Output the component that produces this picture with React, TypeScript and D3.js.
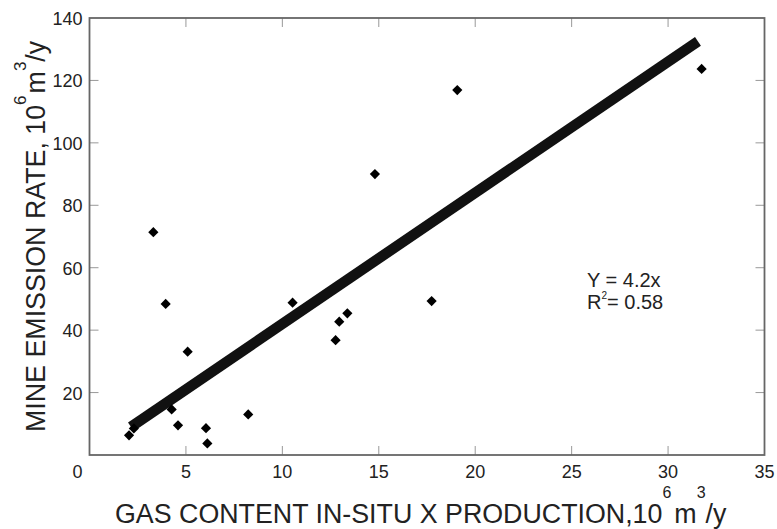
import React, { useEffect } from 'react';
import * as d3 from 'd3';

// scatter: gas content in-situ x production vs mine emission rate
const gasProduction = [2.05, 2.3, 3.31, 3.95, 4.26, 4.59, 5.09, 6.04, 6.11, 8.23, 10.53, 12.76, 12.95, 13.37, 14.8, 17.74, 19.07, 31.74];
const emissionRate = [6.3, 8.5, 71.4, 48.4, 14.6, 9.5, 33.1, 8.6, 3.7, 13.0, 48.8, 36.8, 42.7, 45.4, 90.0, 49.3, 116.9, 123.7];

const xTicks = [0, 5, 10, 15, 20, 25, 30, 35];
const yTicks = [20, 40, 60, 80, 100, 120, 140];

const slope = 4.2;
const fitRange = [2.15, 31.55];

const W = 777;
const H = 529;
const margin = { top: 18, right: 12.5, bottom: 74, left: 89.5 };

const App: React.FC = () => {
  useEffect(() => {
    document.body.style.margin = '0';
  }, []);

  const x = d3.scaleLinear().domain([0, 35]).range([margin.left, W - margin.right]);
  const y = d3.scaleLinear().domain([0, 140]).range([H - margin.bottom, margin.top]);

  const fitLine = d3.line<number>()
    .x(d => x(d))
    .y(d => y(slope * d));

  const diamond = d3.symbol().type(d3.symbolSquare).size(52)();

  const innerTicksX = xTicks.filter(t => t > 0 && t < 35);
  const innerTicksY = yTicks.filter(t => t < 140);
  const tickLen = 9;
  const font = 'Liberation Sans, Arial, sans-serif';
  const textColor = '#222';

  return (
    <svg width={W} height={H} style={{ display: 'block', background: '#fff' }} fontFamily={font}>
      {/* ticks */}
      <g stroke="#999" strokeWidth={1}>
        {innerTicksX.map(t => (
          <g key={'tx' + t}>
            <line x1={x(t)} x2={x(t)} y1={y(0)} y2={y(0) - tickLen} />
            <line x1={x(t)} x2={x(t)} y1={y(140)} y2={y(140) + tickLen} />
          </g>
        ))}
        {innerTicksY.map(t => (
          <g key={'ty' + t}>
            <line x1={x(0)} x2={x(0) + tickLen} y1={y(t)} y2={y(t)} />
            <line x1={x(35)} x2={x(35) - tickLen} y1={y(t)} y2={y(t)} />
          </g>
        ))}
      </g>

      {/* frame */}
      <rect x={x(0)} y={y(140)} width={x(35) - x(0)} height={y(0) - y(140)}
        fill="none" stroke="#666" strokeWidth={1.8} />

      {/* tick labels */}
      <g fontSize={18} fill={textColor}>
        {xTicks.map(t => (
          <text key={'lx' + t} x={t === 0 ? x(t) - 12 : x(t)} y={y(0) + 23} textAnchor="middle">{t}</text>
        ))}
        {yTicks.map(t => (
          <text key={'ly' + t} x={x(0) - 7} y={y(t) + 7} textAnchor="end">{t}</text>
        ))}
      </g>

      {/* regression line */}
      <path d={fitLine(fitRange) || ''} fill="none" stroke="#111" strokeWidth={10.5} />

      {/* points */}
      <g fill="#000">
        {gasProduction.map((g, i) => (
          <path key={'p' + i} d={diamond || ''}
            transform={`translate(${x(g)},${y(emissionRate[i])}) rotate(45)`} />
        ))}
      </g>

      {/* equation */}
      <g fontSize={20} fill={textColor}>
        <text x={587} y={287}>Y = 4.2x</text>
        <text x={587} y={309}>
          R<tspan fontSize={10} dy={-10}>2</tspan><tspan dy={10}>= 0.58</tspan>
        </text>
      </g>

      {/* x axis title */}
      <text x={115} y={523} fontSize={26.8} fill={textColor}>
        <tspan>GAS CONTENT IN-SITU X PRODUCTION,10</tspan>
        <tspan fontSize={16} dy={-25}>6</tspan>
        <tspan dy={25} dx={3}>m</tspan>
        <tspan fontSize={16} dy={-25}>3</tspan>
        <tspan dy={25}>/y</tspan>
      </text>

      {/* y axis title */}
      <text transform="rotate(-90)" x={-432} y={45} fontSize={26.8} fill={textColor}>
        <tspan>MINE EMISSION RATE, 10</tspan>
        <tspan fontSize={17} dy={-19}>6</tspan>
        <tspan dy={19} dx={2}>m</tspan>
        <tspan fontSize={17} dy={-19}>3</tspan>
        <tspan dy={19}>/y</tspan>
      </text>
    </svg>
  );
};

export default App;
